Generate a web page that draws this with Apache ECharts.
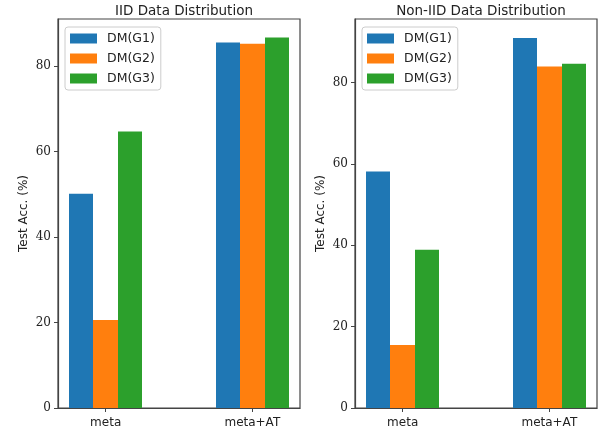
<!DOCTYPE html>
<html>
<head>
<meta charset="utf-8">
<script src="https://cdn.jsdelivr.net/npm/echarts@6/dist/echarts.min.js"></script>
<style>
  html, body { margin: 0; padding: 0; background: #fff; }
  #main { width: 608px; height: 436px; }
</style>
</head>
<body>
<div id="main"></div>
<script>
// data
const categories = ['meta', 'meta+AT']
const groups = ['DM(G1)', 'DM(G2)', 'DM(G3)']
const iidValues = [
  [50.1, 85.5],
  [20.6, 85.2],
  [64.7, 86.7]
]
const nonIidValues = [
  [58.1, 90.9],
  [15.5, 83.9],
  [38.9, 84.6]
]
const yTicks = [0, 20, 40, 60, 80]
const colors = ['#1f77b4', '#ff7f0e', '#2ca02c']

const serif = 'DejaVu Serif'
const sans = 'DejaVu Sans'
const barW = 1 / 6 // bar width in x units, 3 bars = 0.5
const offsets = [-barW, 0, barW]

function makeSeries (values, axisIdx) {
  return groups.map((g, i) => ({
    name: g,
    type: 'custom',
    xAxisIndex: axisIdx,
    yAxisIndex: axisIdx,
    itemStyle: { color: colors[i] },
    encode: { x: 0, y: 1 },
    renderItem: function (params, api) {
      const x = api.value(0)
      const y = api.value(1)
      const p0 = api.coord([x - barW / 2, y])
      const p1 = api.coord([x + barW / 2, 0])
      const x0 = Math.round(p0[0])
      const x1 = Math.round(p1[0])
      return {
        type: 'rect',
        shape: { x: x0, y: p0[1], width: x1 - x0, height: p1[1] - p0[1] },
        style: { fill: colors[i] }
      }
    },
    data: categories.map((c, k) => [k + offsets[i], values[i][k]])
  }))
}

function makeX (idx) {
  return {
    type: 'value',
    gridIndex: idx,
    min: -0.325,
    max: 1.325,
    splitLine: { show: false },
    axisLine: { show: true, onZero: false, lineStyle: { color: '#444', width: 1.2 } },
    axisTick: { show: true, length: 4, customValues: [0, 1], lineStyle: { color: '#444' } },
    axisLabel: {
      customValues: [0, 1],
      formatter: (v) => categories[Math.round(v)],
      fontFamily: sans,
      fontSize: 12,
      color: '#222',
      margin: 9
    }
  }
}

function makeY (idx, maxV) {
  return {
    type: 'value',
    gridIndex: idx,
    min: 0,
    max: maxV,
    name: 'Test Acc. (%)',
    nameLocation: 'middle',
    nameGap: 28,
    nameTextStyle: { fontFamily: sans, fontSize: 12, color: '#222' },
    splitLine: { show: false },
    axisLine: { show: true, onZero: false, lineStyle: { color: '#444', width: 1.2 } },
    axisTick: { show: true, length: 4, customValues: yTicks, lineStyle: { color: '#444' } },
    axisLabel: {
      customValues: yTicks,
      fontFamily: serif,
      fontSize: 12,
      color: '#222',
      margin: 7
    }
  }
}

function makeLegend (left) {
  return {
    data: groups,
    orient: 'vertical',
    left: left,
    top: 27,
    icon: 'rect',
    itemWidth: 27,
    itemHeight: 10,
    itemGap: 7,
    padding: [5, 6, 5, 5],
    borderColor: '#ccc',
    borderWidth: 1,
    borderRadius: 3,
    selectedMode: false,
    textStyle: { fontFamily: sans, fontSize: 12.5, color: '#222', lineHeight: 13, padding: [0, 0, 0, 5] }
  }
}

const chart = echarts.init(document.getElementById('main'))
chart.setOption({
  animation: false,
  color: colors,
  title: [
    { text: 'IID Data Distribution', left: 179, top: -1, textAlign: 'center',
      textStyle: { fontFamily: sans, fontSize: 13.5, fontWeight: 'normal', color: '#222' } },
    { text: 'Non-IID Data Distribution', left: 476, top: -1, textAlign: 'center',
      textStyle: { fontFamily: sans, fontSize: 13.5, fontWeight: 'normal', color: '#222' } }
  ],
  legend: [makeLegend(65), makeLegend(362)],
  grid: [
    { left: 58, right: 308, top: 19, bottom: 28, show: true, borderColor: '#444', borderWidth: 1.2 },
    { left: 355, right: 11, top: 19, bottom: 28, show: true, borderColor: '#444', borderWidth: 1.2 }
  ],
  xAxis: [makeX(0), makeX(1)],
  yAxis: [makeY(0, 91.0), makeY(1, 95.6)],
  series: makeSeries(iidValues, 0).concat(makeSeries(nonIidValues, 1))
})
</script>
</body>
</html>
